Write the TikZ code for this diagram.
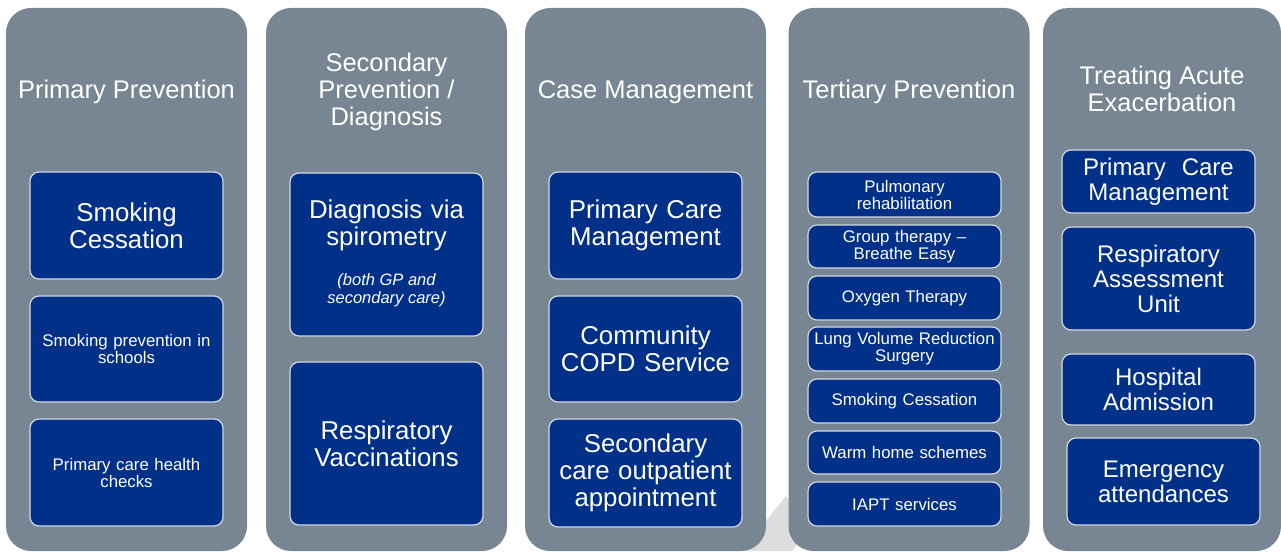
\documentclass[tikz,border=0pt]{standalone}
\usepackage{fontspec}
\setmainfont{Liberation Sans}

\definecolor{slate}{HTML}{778692}
\definecolor{navy}{HTML}{003087}
\definecolor{rim}{HTML}{D3DAE2}
\definecolor{faint}{HTML}{DDDDDD}

\begin{document}
\begin{tikzpicture}[x=1pt, y=-1pt,
    stage/.style = {fill=slate, rounded corners=25pt, minimum width=241pt, minimum height=543pt, inner sep=0pt},
    stagetitle/.style = {text=white, align=center, inner sep=0pt, font=\fontsize{25.5}{27}\selectfont},
    item/.style = {fill=navy, draw=rim, line width=1.2pt, rounded corners=9pt, text=white, align=center,
                   inner sep=0pt, minimum width=193pt, text width=187pt},
    big/.style = {font=\fontsize{25.8}{27}\selectfont},
    mid/.style = {font=\fontsize{24}{25}\selectfont},
    small/.style = {font=\fontsize{16.8}{17}\selectfont}]
        \useasboundingbox (0,0) rectangle (1281,551);

        % faint shape behind the columns
        \fill[faint] (742,551) -- (786,496) -- (812,526) -- (792,551) -- cycle;

        % columns
        \node[stage] (pp) at (126.5,279.5) {};
        \node[stage] (sp) at (386.5,279.5) {};
        \node[stage] (cm) at (645.5,279.5) {};
        \node[stage] (tp) at (909,279.5) {};
        \node[stage, minimum width=238pt] (ae) at (1162,279.5) {};

        \node[stagetitle] (pp-t) at (126.5,92) {Primary Prevention};
        \node[stagetitle] (sp-t) at (386.5,92) {Secondary\\Prevention /\\Diagnosis};
        \node[stagetitle] (cm-t) at (645.5,92) {Case Management};
        \node[stagetitle] (tp-t) at (909,92) {Tertiary Prevention};
        \node[stagetitle] (ae-t) at (1162,89) {Treating Acute\\Exacerbation};

        % primary prevention
        \node[item, big, minimum height=107pt] (pp1) at (126.5,225.5) {Smoking\\Cessation};
        \node[item, small, minimum height=106pt] (pp2) at (126.5,349) {Smoking prevention in\\schools};
        \node[item, small, minimum height=107pt] (pp3) at (126.5,472.5) {Primary care health\\checks};

        % secondary prevention
        \node[item, big, minimum height=163pt] (sp1) at (386.5,254.5)
            {Diagnosis via\\spirometry\\[13pt]{\fontsize{16.5}{18}\selectfont\itshape\spaceskip=0pt
             \begin{tabular}[t]{@{}c@{}}(both GP and\\secondary care)\end{tabular}}};
        \node[item, big, minimum height=163pt] (sp2) at (386.5,443.5) {Respiratory\\Vaccinations};

        % case management
        \node[item, big, minimum height=107pt] (cm1) at (645.5,225.5) {Primary Care\\Management};
        \node[item, big, minimum height=106pt] (cm2) at (645.5,349) {Community\\COPD Service};
        \node[item, big, minimum height=108pt] (cm3) at (645.5,473) {\strut Secondary\\care outpatient\\appointment};

        % tertiary prevention
        \node[item, small, minimum height=45pt] (tp1) at (904.5,194.5) {Pulmonary\\rehabilitation};
        \node[item, small, minimum height=43pt] (tp2) at (904.5,246.5) {Group therapy --\\Breathe Easy};
        \node[item, small, minimum height=44pt] (tp3) at (904.5,298) {Oxygen Therapy};
        \node[item, small, minimum height=44pt] (tp4) at (904.5,349) {Lung Volume Reduction\\Surgery};
        \node[item, small, minimum height=44pt] (tp5) at (904.5,401) {Smoking Cessation};
        \node[item, small, minimum height=43pt] (tp6) at (904.5,452.5) {Warm home schemes};
        \node[item, small, minimum height=44pt] (tp7) at (904.5,504) {IAPT services};

        % acute exacerbation
        \node[item, mid, minimum height=63pt] (ae1) at (1158.5,181.5) {Primary\ \ Care\\Management};
        \node[item, mid, minimum height=103pt] (ae2) at (1158.5,278.5) {Respiratory\\Assessment\\Unit};
        \node[item, mid, minimum height=71pt] (ae3) at (1158.5,389.5) {Hospital\\Admission};
        \node[item, mid, minimum height=87pt] (ae4) at (1163.5,481.5) {Emergency\\attendances};
\end{tikzpicture}
\end{document}
